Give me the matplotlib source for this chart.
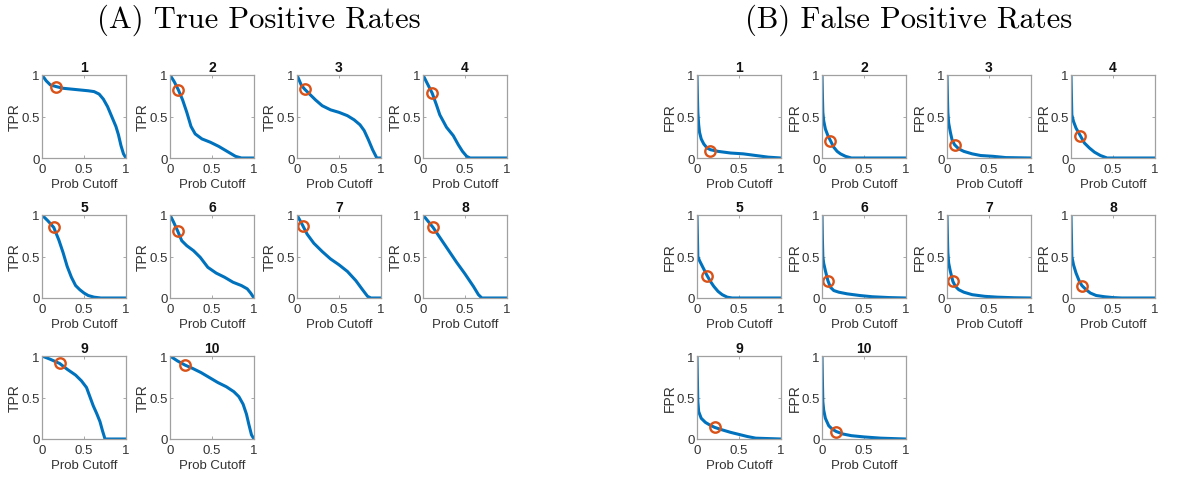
import matplotlib
matplotlib.use("Agg")
import matplotlib.pyplot as plt
import numpy as np

plt.rcParams["font.family"] = ["Liberation Sans", "DejaVu Sans"]

# probability cutoff grid values and rates, one list per model
TPR_X = [
    [0, 0.05, 0.1, 0.17, 0.25, 0.35, 0.45, 0.55, 0.62, 0.68, 0.73, 0.78, 0.83, 0.88, 0.91, 0.94, 0.97, 1.0],
    [0, 0.05, 0.1, 0.15, 0.2, 0.25, 0.3, 0.38, 0.48, 0.58, 0.68, 0.78, 0.85, 1],
    [0, 0.05, 0.09, 0.15, 0.22, 0.3, 0.4, 0.5, 0.6, 0.68, 0.75, 0.8, 0.85, 0.9, 0.95, 1],
    [0, 0.05, 0.11, 0.16, 0.2, 0.28, 0.36, 0.42, 0.47, 0.52, 0.56, 1],
    [0, 0.07, 0.14, 0.2, 0.25, 0.3, 0.35, 0.4, 0.45, 0.5, 0.55, 0.62, 0.7, 1],
    [0, 0.04, 0.09, 0.14, 0.2, 0.28, 0.36, 0.45, 0.55, 0.65, 0.75, 0.85, 0.92, 0.96, 1],
    [0, 0.07, 0.12, 0.2, 0.3, 0.4, 0.5, 0.6, 0.7, 0.78, 0.84, 0.88, 1],
    [0, 0.12, 0.2, 0.3, 0.4, 0.5, 0.6, 0.66, 0.7, 1],
    [0, 0.1, 0.21, 0.3, 0.4, 0.47, 0.53, 0.57, 0.61, 0.65, 0.69, 0.72, 0.75, 1],
    [0, 0.09, 0.18, 0.27, 0.37, 0.47, 0.57, 0.67, 0.76, 0.82, 0.87, 0.91, 0.94, 0.97, 1],
]
TPR_Y = [
    [1, 0.93, 0.88, 0.86, 0.84, 0.83, 0.82, 0.81, 0.80, 0.77, 0.71, 0.62, 0.50, 0.38, 0.28, 0.15, 0.05, 0],
    [1, 0.92, 0.82, 0.70, 0.55, 0.38, 0.29, 0.23, 0.19, 0.14, 0.08, 0.02, 0, 0],
    [1, 0.88, 0.83, 0.77, 0.70, 0.63, 0.58, 0.55, 0.51, 0.46, 0.40, 0.33, 0.22, 0.10, 0, 0],
    [1, 0.90, 0.78, 0.64, 0.52, 0.37, 0.27, 0.16, 0.08, 0.02, 0, 0],
    [1, 0.93, 0.85, 0.70, 0.55, 0.38, 0.25, 0.15, 0.10, 0.06, 0.03, 0.01, 0, 0],
    [1, 0.92, 0.81, 0.69, 0.63, 0.57, 0.49, 0.37, 0.30, 0.25, 0.19, 0.15, 0.11, 0.06, 0],
    [1, 0.87, 0.77, 0.66, 0.56, 0.47, 0.40, 0.32, 0.21, 0.10, 0.02, 0, 0],
    [1, 0.85, 0.73, 0.58, 0.43, 0.29, 0.14, 0.04, 0, 0],
    [1, 0.96, 0.91, 0.84, 0.77, 0.70, 0.62, 0.51, 0.40, 0.31, 0.21, 0.10, 0, 0],
    [1, 0.94, 0.89, 0.85, 0.80, 0.74, 0.68, 0.63, 0.57, 0.51, 0.42, 0.30, 0.17, 0.05, 0],
]

FPR_X = [
    [0, 0.005, 0.01, 0.02, 0.03, 0.05, 0.08, 0.12, 0.16, 0.25, 0.4, 0.55, 0.7, 0.85, 1],
    [0, 0.005, 0.01, 0.02, 0.04, 0.07, 0.1, 0.14, 0.18, 0.22, 0.28, 0.35, 1],
    [0, 0.005, 0.01, 0.02, 0.04, 0.06, 0.09, 0.14, 0.2, 0.3, 0.4, 0.55, 0.7, 1],
    [0, 0.005, 0.01, 0.03, 0.06, 0.11, 0.16, 0.22, 0.28, 0.35, 0.43, 1],
    [0, 0.005, 0.01, 0.03, 0.06, 0.09, 0.12, 0.16, 0.2, 0.25, 0.3, 0.36, 0.42, 1],
    [0, 0.005, 0.01, 0.02, 0.04, 0.07, 0.1, 0.14, 0.2, 0.3, 0.45, 0.6, 0.8, 1],
    [0, 0.005, 0.01, 0.02, 0.04, 0.07, 0.1, 0.14, 0.2, 0.3, 0.45, 0.6, 0.8, 1],
    [0, 0.005, 0.01, 0.03, 0.06, 0.1, 0.13, 0.18, 0.23, 0.3, 0.4, 0.5, 0.6, 1],
    [0, 0.005, 0.01, 0.02, 0.05, 0.1, 0.15, 0.21, 0.3, 0.4, 0.5, 0.6, 0.7, 1],
    [0, 0.005, 0.01, 0.02, 0.04, 0.08, 0.12, 0.17, 0.25, 0.35, 0.5, 0.7, 0.9, 1],
]
FPR_Y = [
    [1, 0.75, 0.55, 0.40, 0.31, 0.23, 0.17, 0.12, 0.10, 0.08, 0.06, 0.05, 0.03, 0.01, 0],
    [1, 0.75, 0.55, 0.45, 0.35, 0.27, 0.21, 0.13, 0.08, 0.05, 0.02, 0, 0],
    [1, 0.75, 0.55, 0.42, 0.31, 0.22, 0.16, 0.11, 0.08, 0.05, 0.03, 0.02, 0.005, 0],
    [1, 0.75, 0.52, 0.44, 0.36, 0.27, 0.18, 0.12, 0.07, 0.03, 0, 0],
    [1, 0.75, 0.50, 0.45, 0.39, 0.33, 0.27, 0.20, 0.14, 0.08, 0.04, 0.01, 0, 0],
    [1, 0.70, 0.50, 0.42, 0.33, 0.21, 0.13, 0.09, 0.07, 0.05, 0.03, 0.015, 0.005, 0],
    [1, 0.75, 0.55, 0.42, 0.32, 0.20, 0.14, 0.10, 0.07, 0.04, 0.02, 0.01, 0.003, 0],
    [1, 0.75, 0.50, 0.40, 0.30, 0.20, 0.15, 0.10, 0.06, 0.03, 0.015, 0.005, 0, 0],
    [1, 0.70, 0.45, 0.33, 0.25, 0.20, 0.17, 0.14, 0.11, 0.08, 0.055, 0.03, 0.01, 0],
    [1, 0.70, 0.45, 0.35, 0.25, 0.16, 0.12, 0.09, 0.06, 0.04, 0.025, 0.01, 0.003, 0],
]

# chosen operating points (orange circles)
CUT_TPR_X = [0.17, 0.10, 0.09, 0.11, 0.14, 0.09, 0.07, 0.12, 0.21, 0.18]
CUT_TPR_Y = [0.86, 0.82, 0.83, 0.78, 0.85, 0.81, 0.87, 0.85, 0.91, 0.89]
CUT_FPR_X = [0.16, 0.10, 0.09, 0.11, 0.12, 0.07, 0.07, 0.13, 0.21, 0.17]
CUT_FPR_Y = [0.09, 0.21, 0.16, 0.27, 0.27, 0.21, 0.20, 0.15, 0.14, 0.09]

PANEL_LABELS = ["1", "2", "3", "4", "5", "6", "7", "8", "9", "10"]

BLUE = "#0072BD"
ORANGE = "#D95319"
W, H = 1180, 481


def draw_panel(fig, lefts, xs, ys, cx, cy, ylabel):
    tops = [76, 216, 357]
    for i, name in enumerate(PANEL_LABELS):
        row, col = divmod(i, 4)
        left = lefts[col]
        top = tops[row]
        ax = fig.add_axes([left / W, 1 - (top + 83) / H, 84 / W, 83 / H])
        ax.plot(xs[i], ys[i], color=BLUE, linewidth=2.2)
        ax.plot(cx[i], cy[i], "o", markerfacecolor="none", markeredgecolor=ORANGE,
                markersize=7.5, markeredgewidth=1.7)
        ax.set_xlim(0, 1)
        ax.set_ylim(0, 1)
        ax.set_xticks([0, 0.5, 1], ["0", "0.5", "1"])
        ax.set_yticks([0, 0.5, 1], ["0", "0.5", "1"])
        ax.tick_params(direction="in", length=2, width=0.6, labelsize=9.5, colors="#9a9a9a",
                       labelcolor="#333333", top=True, right=True)
        ax.tick_params(axis="x", pad=3.5)
        ax.tick_params(axis="y", pad=1.5)
        for sp in ax.spines.values():
            sp.set_color("#a0a0a0")
            sp.set_linewidth(0.9)
        ax.set_title(name, fontsize=10, fontweight="bold", pad=3, color="#111111")
        ax.set_xlabel("Prob Cutoff", fontsize=9.5, color="#333333", labelpad=2.5)
        ax.set_ylabel(ylabel, fontsize=10, color="#333333", labelpad=0)


def main():
    fig = plt.figure(figsize=(11.8, 4.81), dpi=100)
    draw_panel(fig, [42, 170, 297, 423], TPR_X, TPR_Y, CUT_TPR_X, CUT_TPR_Y, "TPR")
    draw_panel(fig, [697, 822, 947, 1071], FPR_X, FPR_Y, CUT_FPR_X, CUT_FPR_Y, "FPR")

    fig.text(259 / W, 1 - 20 / H, "(A) True Positive Rates", family="cmr10", fontsize=22,
             ha="center", va="center")
    fig.text(909 / W, 1 - 20 / H, "(B) False Positive Rates", family="cmr10", fontsize=22,
             ha="center", va="center")

    fig.savefig("out.png", dpi=100)
    plt.close(fig)


if __name__ == "__main__":
    main()
